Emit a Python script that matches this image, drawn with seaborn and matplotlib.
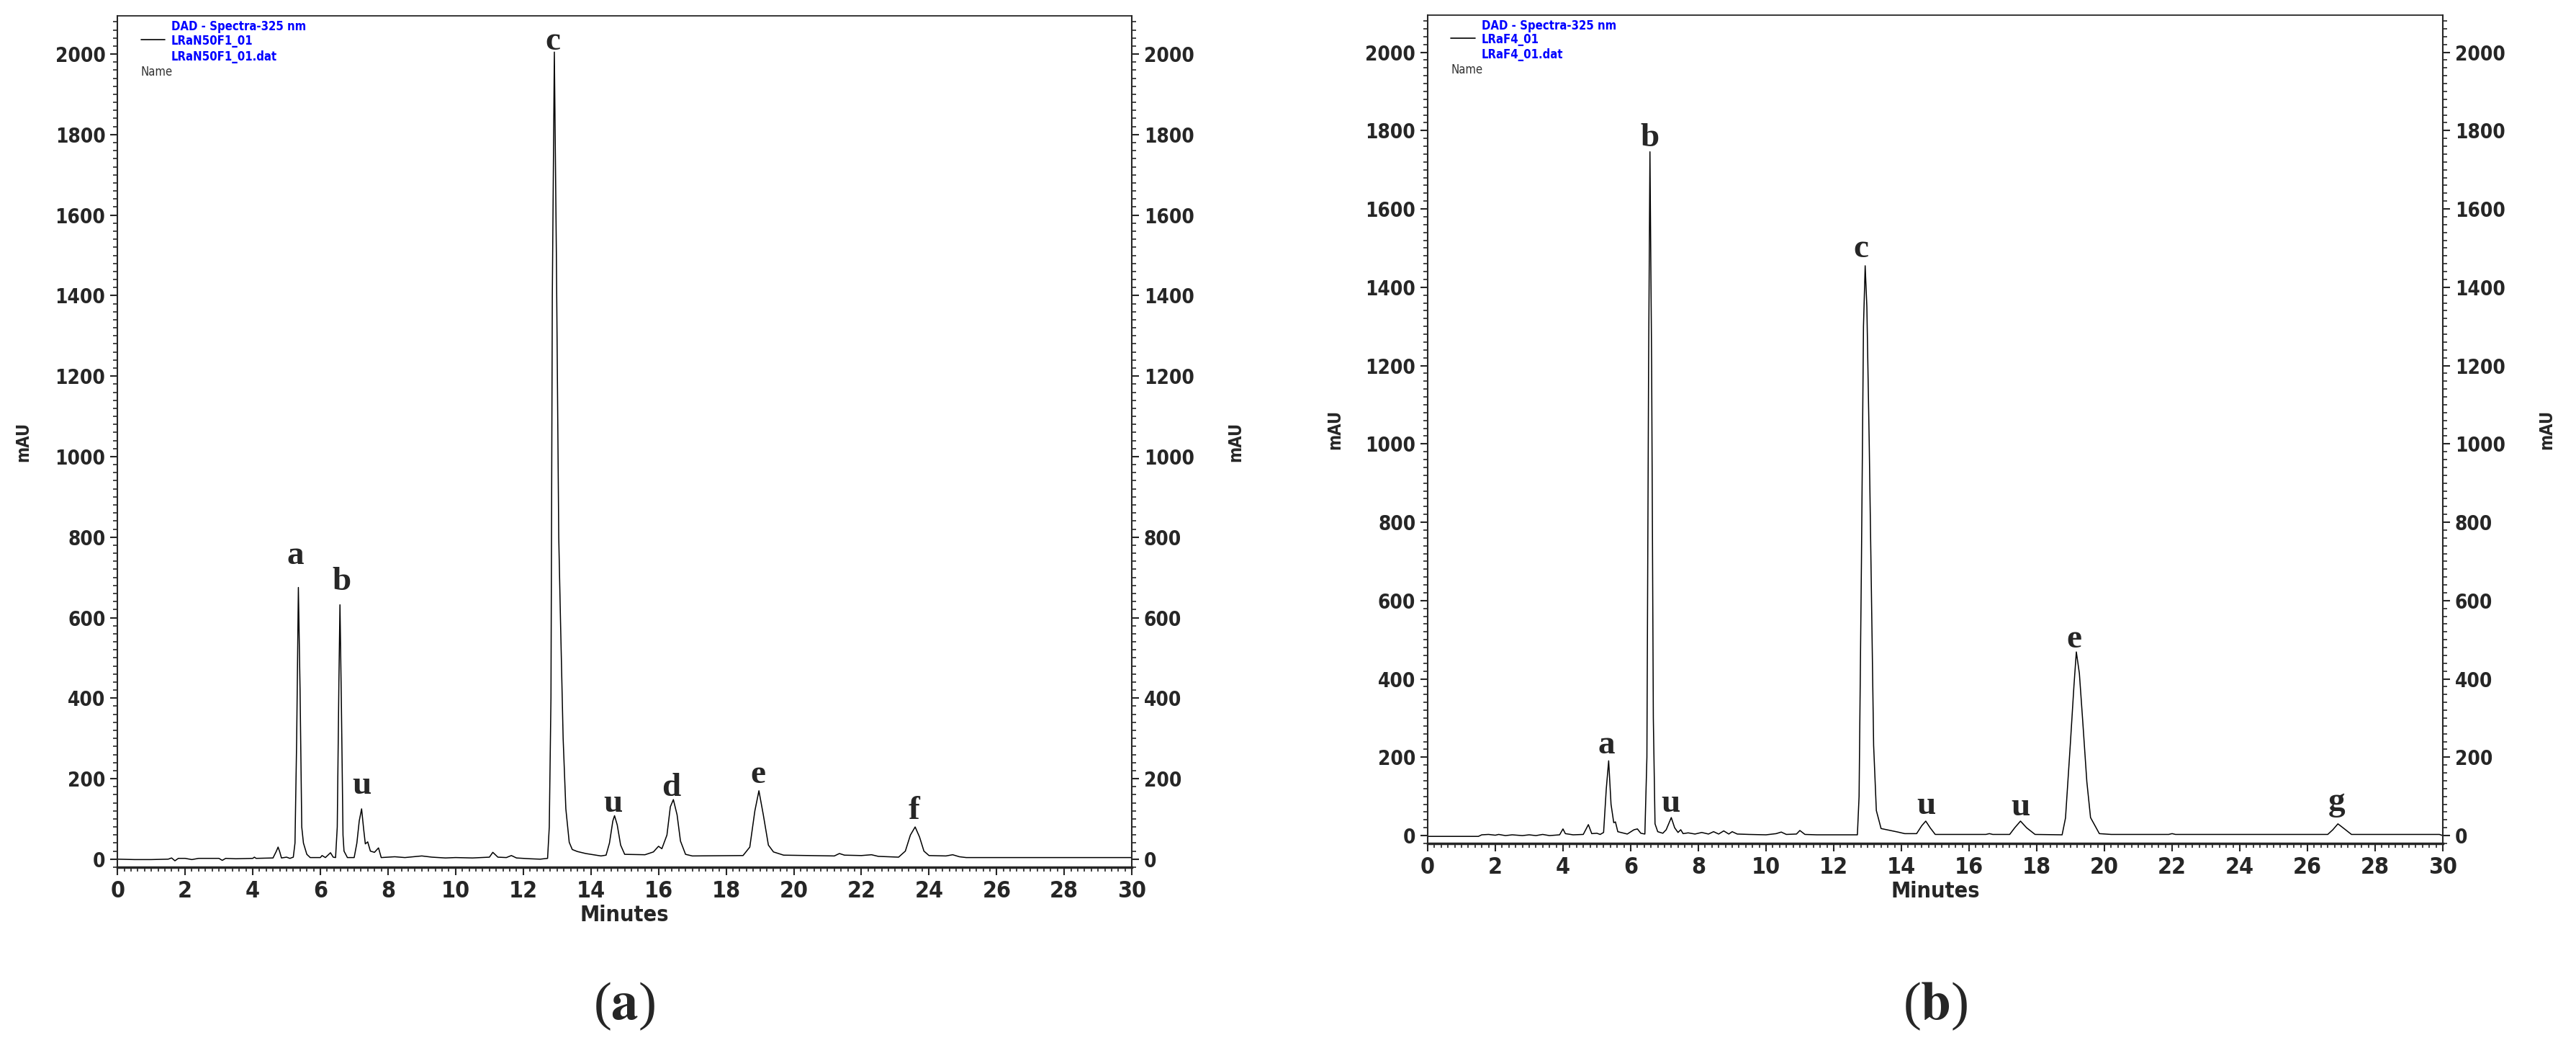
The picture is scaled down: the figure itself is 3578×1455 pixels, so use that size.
import numpy as np
import pandas as pd
import matplotlib
matplotlib.use('Agg')
import matplotlib.pyplot as plt
from matplotlib.ticker import MultipleLocator
import seaborn as sns

# chromatogram (a), LRaN50F1_01 (minutes, mAU)
time_a = [0.0, 0.5, 1.0, 1.5, 1.6, 1.7, 1.8, 2.0, 2.2, 2.4, 3.0, 3.1, 3.2, 3.5, 4.0, 4.05, 4.1,
          4.6, 4.7, 4.75, 4.8, 4.85, 5.0, 5.1, 5.2, 5.25, 5.3, 5.35, 5.4, 5.45, 5.5, 5.6, 5.7,
          6.0, 6.05, 6.15, 6.25, 6.3, 6.38, 6.45, 6.5, 6.55, 6.58, 6.62, 6.67, 6.7, 6.8,
          7.0, 7.08, 7.15, 7.22, 7.28, 7.33, 7.4, 7.48, 7.6, 7.72, 7.8, 8.2, 8.5, 9.0, 9.3,
          9.7, 10.0, 10.5, 11.0, 11.1, 11.25, 11.5, 11.65, 11.8, 12.2, 12.5, 12.72, 12.77,
          12.82, 12.86, 12.92, 12.98, 13.05, 13.1, 13.18, 13.26, 13.36, 13.45, 13.6, 13.85,
          14.0, 14.3, 14.45, 14.55, 14.65, 14.7, 14.78, 14.88, 15.0, 15.6, 15.85, 16.0, 16.1,
          16.25, 16.35, 16.44, 16.55, 16.65, 16.8, 17.0, 18.5, 18.7, 18.85, 18.97, 19.1,
          19.25, 19.4, 19.7, 21.2, 21.35, 21.5, 22.0, 22.3, 22.5, 23.1, 23.3, 23.45, 23.59,
          23.72, 23.85, 24.0, 24.5, 24.7, 24.9, 25.1, 30.0]
mau_a = [0, -1, -1, 0, 3, -4, 2, 2, -1, 2, 2, -3, 2, 1, 2, 5, 2,
         3, 20, 30, 18, 3, 5, 2, 5, 40, 300, 675, 420, 80, 40, 12, 4,
         4, 9, 4, 12, 16, 5, 4, 80, 450, 632, 400, 60, 20, 4,
         4, 40, 95, 125, 75, 38, 43, 20, 17, 28, 4, 6, 4, 8, 5,
         3, 4, 3, 5, 17, 5, 4, 9, 3, 1, 0, 2, 80,
         400, 1400, 2005, 1500, 800, 600, 300, 125, 42, 24, 19, 14,
         12, 8, 10, 40, 95, 108, 85, 35, 12, 11, 18, 32, 26,
         60, 130, 148, 110, 45, 12, 8, 9, 30, 120, 170, 110,
         35, 18, 10, 8, 14, 10, 9, 11, 7, 5, 20, 60, 80,
         55, 20, 9, 8, 11, 6, 4, 4]

# chromatogram (b), LRaF4_01
time_b = [0.0, 0.5, 1.0, 1.5, 1.6, 1.8, 2.0, 2.1, 2.3, 2.5, 2.8, 3.0, 3.2, 3.4, 3.6, 3.9, 4.0,
          4.07, 4.3, 4.6, 4.75, 4.85, 5.0, 5.1, 5.2, 5.28, 5.35, 5.42, 5.5, 5.55, 5.62, 5.9,
          6.1, 6.2, 6.3, 6.42, 6.48, 6.53, 6.57, 6.62, 6.67, 6.72, 6.8, 6.95, 7.05, 7.2, 7.3,
          7.4, 7.48, 7.55, 7.7, 7.9, 8.1, 8.3, 8.45, 8.6, 8.75, 8.9, 9.0, 9.15, 9.5, 10.0,
          10.3, 10.45, 10.6, 10.9, 11.0, 11.15, 11.5, 12.7, 12.75, 12.82, 12.88, 12.93, 12.98,
          13.05, 13.13, 13.18, 13.26, 13.4, 13.9, 14.1, 14.45, 14.6, 14.72, 14.85, 15.0, 16.5,
          16.6, 16.7, 17.2, 17.35, 17.52, 17.7, 17.95, 18.75, 18.85, 18.99, 19.1, 19.17, 19.26,
          19.36, 19.48, 19.59, 19.85, 20.2, 21.9, 22.0, 22.1, 26.6, 26.75, 26.9, 27.05, 27.3,
          29.9, 30.0]
mau_b = [-2, -2, -2, -2, 2, 3, 1, 3, 0, 2, 0, 2, 0, 3, 0, 2, 17,
         5, 2, 3, 28, 5, 6, 3, 8, 120, 191, 80, 33, 35, 10, 4,
         15, 17, 6, 4, 200, 1200, 1746, 1200, 300, 30, 10, 6, 15, 46, 20,
         8, 15, 5, 7, 4, 8, 4, 10, 4, 12, 4, 10, 4, 3, 2,
         5, 9, 3, 4, 13, 3, 2, 2, 100, 700, 1300, 1455, 1350,
         1000, 530, 230, 64, 18, 9, 5, 5, 25, 37, 20, 3, 3,
         5, 3, 3, 20, 37, 20, 3, 2, 45, 230, 383, 469, 414,
         291, 138, 46, 5, 3, 3, 5, 3, 3, 15, 30, 20, 3,
         3, 0]

# peak letters: text, minutes, mAU of the letter baseline
peaks_a = ['a', 'b', 'u', 'c', 'u', 'd', 'e', 'f']
peak_x_a = [5.26, 6.62, 7.23, 12.88, 14.65, 16.37, 18.94, 23.55]
peak_y_a = [733, 668, 162, 2010, 118, 157, 189, 100]

peaks_b = ['a', 'b', 'u', 'c', 'u', 'u', 'e', 'g']
peak_x_b = [5.28, 6.57, 7.18, 12.81, 14.74, 17.52, 19.10, 26.87]
peak_y_b = [210, 1761, 61, 1477, 55, 52, 481, 64]

legend_a = ['DAD - Spectra-325 nm', 'LRaN50F1_01', 'LRaN50F1_01.dat']
legend_b = ['DAD - Spectra-325 nm', 'LRaF4_01', 'LRaF4_01.dat']
panel_tags = ['a', 'b']

sns.set_theme(style='ticks')
plt.rcParams['font.family'] = ['DejaVu Sans']
plt.rcParams['font.stretch'] = 'condensed'
plt.rcParams['mathtext.fontset'] = 'stix'


def draw_panel(ax, t, y, peaks, px, py, legend, ylab_x):
    df = pd.DataFrame({'Minutes': t, 'mAU': y})
    sns.lineplot(data=df, x='Minutes', y='mAU', ax=ax, color='black',
                 linewidth=1.1, sort=False, estimator=None)
    ax.set_xlim(0, 30)
    ax.set_ylim(-20, 2095)
    ax.xaxis.set_major_locator(MultipleLocator(2))
    ax.xaxis.set_minor_locator(MultipleLocator(0.2))
    ax.yaxis.set_major_locator(MultipleLocator(200))
    ax.yaxis.set_minor_locator(MultipleLocator(20))
    ax.tick_params(axis='x', which='major', direction='out', length=8, width=1.5,
                   pad=5, labelsize=23)
    ax.tick_params(axis='x', which='minor', direction='out', length=4, width=1.2)
    ax.tick_params(axis='y', which='major', direction='out', length=7, width=1.5,
                   pad=5, labelsize=20, right=True, labelright=True)
    ax.tick_params(axis='y', which='minor', direction='out', length=4, width=1.2,
                   right=True)
    for lab in ax.get_xticklabels() + ax.get_yticklabels():
        lab.set_fontweight('bold')
    ax.set_xlabel('Minutes', fontsize=22, fontweight='bold', labelpad=2)
    ax.set_ylabel('')
    for xx in [ylab_x, 1.102]:
        ax.text(xx, 0.5, 'mAU', transform=ax.transAxes, rotation=90, ha='center',
                va='center', fontsize=17, fontweight='bold')
    for side in ['left', 'right']:
        ax.spines[side].set_linewidth(1.5)
    ax.spines['bottom'].set_linewidth(2.5)
    ax.spines['top'].set_linewidth(1.3)

    for lab, x0, y0 in zip(peaks, px, py):
        ax.text(x0, y0, lab, ha='center', va='baseline', fontsize=34,
                fontweight='bold', family='Liberation Serif', stretch='normal')

    # header block written by the instrument software
    ax.plot([0.023, 0.047], [0.972, 0.972], transform=ax.transAxes,
            color='black', linewidth=1.2)
    for line, yy in zip(legend, [0.987, 0.970, 0.952]):
        ax.text(0.053, yy, line, transform=ax.transAxes, color='#0000ff',
                fontsize=12, fontweight='bold', va='center', ha='left')
    ax.text(0.023, 0.934, 'Name', transform=ax.transAxes, color='#333333',
            fontsize=12, va='center', ha='left')


fig = plt.figure(figsize=(35.78, 14.55), dpi=100)
ax_a = fig.add_axes([0.0456, 0.1725, 0.3938, 0.8124])
ax_b = fig.add_axes([0.5542, 0.1952, 0.3941, 0.7904])

draw_panel(ax_a, time_a, mau_a, peaks_a, peak_x_a, peak_y_a, legend_a, -0.093)
draw_panel(ax_b, time_b, mau_b, peaks_b, peak_x_b, peak_y_b, legend_b, -0.091)

for tag, xc in zip(panel_tags, [0.2423, 0.7513]):
    fig.text(xc, 0.040, '($\\mathbf{' + tag + '}$)', ha='center', va='center',
             fontsize=54, family='Liberation Serif', stretch='normal')

fig.savefig('out.png', dpi=100, facecolor='white')
